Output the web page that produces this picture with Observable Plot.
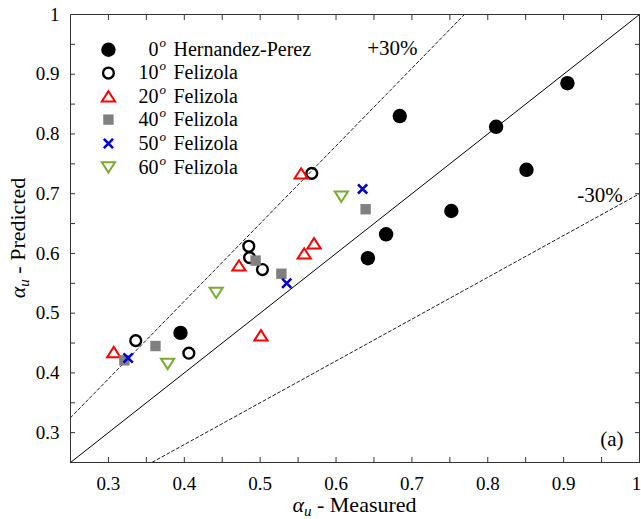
<!DOCTYPE html>
<html>
<head>
<meta charset="utf-8">
<script src="https://cdn.jsdelivr.net/npm/d3@7"></script>
<script src="https://cdn.jsdelivr.net/npm/@observablehq/plot@0.6"></script>
<style>
  html, body { margin: 0; padding: 0; background: #fff; }
  #chart svg { display: block; }
</style>
</head>
<body>
<div id="chart"></div>
<script>
// ---------- data ----------
const hpX  = [0.395, 0.642, 0.666, 0.684, 0.752, 0.811, 0.851, 0.905];
const hpY  = [0.467, 0.592, 0.632, 0.830, 0.671, 0.812, 0.740, 0.885];

const f10X = [0.336, 0.406, 0.485, 0.486, 0.503, 0.568];
const f10Y = [0.454, 0.433, 0.612, 0.593, 0.573, 0.734];

const f20X = [0.307, 0.472, 0.501, 0.558, 0.571, 0.554];
const f20Y = [0.435, 0.580, 0.463, 0.600, 0.617, 0.734];

const f40X = [0.321, 0.362, 0.494, 0.528, 0.639];
const f40Y = [0.421, 0.445, 0.588, 0.566, 0.674];

const f50X = [0.326, 0.535, 0.635];
const f50Y = [0.425, 0.550, 0.708];

const f60X = [0.378, 0.442, 0.607];
const f60Y = [0.415, 0.534, 0.695];

const angleLabels  = ["0", "10", "20", "40", "50", "60"];
const sourceLabels = ["Hernandez-Perez", "Felizola", "Felizola", "Felizola", "Felizola", "Felizola"];
const legendY      = [0.941, 0.902, 0.863, 0.824, 0.784, 0.744];
const legendX      = 0.30;

const majorTicks = [0.3, 0.4, 0.5, 0.6, 0.7, 0.8, 0.9, 1];
const minorTicks = [0.3, 0.35, 0.4, 0.45, 0.5, 0.55, 0.6, 0.65, 0.7, 0.75, 0.8, 0.85, 0.9, 0.95];
const domain = [0.25, 1];
const bandX = [0.25, 1];          // endpoints for the reference lines
const bandFactors = [1, 1.3, 0.7]; // y = x, +30 %, -30 %

// ---------- symbols ----------
const sym = fn => ({ draw(ctx, size) { fn(ctx, Math.sqrt(size / Math.PI)); } });
const circleSym = sym((c, r) => { c.moveTo(r, 0); c.arc(0, 0, r, 0, 2 * Math.PI); c.closePath(); });
const squareSym = sym((c, r) => { c.rect(-r, -r, 2 * r, 2 * r); });
const triUpSym  = sym((c, r) => { const h = r * 0.78; c.moveTo(0, -h); c.lineTo(r, h); c.lineTo(-r, h); c.closePath(); });
const triDnSym  = sym((c, r) => { const h = r * 0.78; c.moveTo(0, h); c.lineTo(r, -h); c.lineTo(-r, -h); c.closePath(); });
const timesSym  = sym((c, r) => { c.moveTo(-r, -r); c.lineTo(r, r); c.moveTo(r, -r); c.lineTo(-r, r); });

const seriesX = [hpX, f10X, f20X, f40X, f50X, f60X];
const seriesY = [hpY, f10Y, f20Y, f40Y, f50Y, f60Y];
const styles = [
  { symbol: circleSym, r: 7.2,  fill: "#000",    stroke: "none",    strokeWidth: 0 },
  { symbol: circleSym, r: 5.4,  fill: "none",    stroke: "#000",    strokeWidth: 2.4 },
  { symbol: triUpSym,  r: 6.6,  fill: "none",    stroke: "#ff0000", strokeWidth: 2 },
  { symbol: squareSym, r: 5.2,  fill: "#808080", stroke: "none",    strokeWidth: 0 },
  { symbol: timesSym,  r: 4.6,  fill: "none",    stroke: "#0000d0", strokeWidth: 2.6 },
  { symbol: triDnSym,  r: 6.6,  fill: "none",    stroke: "#77ac30", strokeWidth: 2 }
];

const FONT = "Liberation Serif";
const fmt = d => String(+d.toFixed(2));

const marks = [];
// reference lines
bandFactors.forEach((k, i) => {
  marks.push(Plot.line(bandX, {
    x: d => d, y: d => d * k, clip: true,
    stroke: "#000",
    strokeWidth: i === 0 ? 1 : 0.9,
    strokeDasharray: i === 0 ? null : "3,2.5"
  }));
});
// data points
seriesX.forEach((xs, s) => {
  const pts = xs.map((x, i) => ({ x, y: seriesY[s][i] }));
  marks.push(Plot.dot(pts, { x: "x", y: "y", ...styles[s] }));
});
// legend
angleLabels.forEach((a, s) => {
  const row = [{ x: legendX, y: legendY[s], a, name: sourceLabels[s] }];
  marks.push(Plot.dot(row, { x: "x", y: "y", ...styles[s] }));
  marks.push(Plot.text(row, { x: "x", y: "y", text: "a", dx: 50, textAnchor: "end", fontSize: 20, fontFamily: FONT, fill: "#000" }));
  marks.push(Plot.text(row, { x: "x", y: "y", text: () => "o", dx: 51, dy: -7, textAnchor: "start", fontSize: 13, fontStyle: "italic", fontFamily: FONT, fill: "#000" }));
  marks.push(Plot.text(row, { x: "x", y: "y", text: "name", dx: 65, textAnchor: "start", fontSize: 20, fontFamily: FONT, fill: "#000" }));
});
// annotations
const notes = [
  { x: 0.641, y: 0.943, t: "+30%", anchor: "start" },
  { x: 0.918, y: 0.698, t: "-30%", anchor: "start" },
  { x: 0.979, y: 0.289, t: "(a)",  anchor: "end" }
];
notes.forEach(n => marks.push(Plot.text([n], { x: "x", y: "y", text: "t", textAnchor: n.anchor, fontSize: 21, fontFamily: FONT, fill: "#000" })));

// axes: inward ticks on all four sides + labels
const lastTick = majorTicks[majorTicks.length - 1];
marks.push(
  Plot.axisX(minorTicks, { anchor: "bottom", tickSize: -5, tickFormat: () => "", label: null, stroke: "#333" }),
  Plot.axisX(minorTicks, { anchor: "top",    tickSize: -5, tickFormat: () => "", label: null, stroke: "#333" }),
  Plot.axisY(minorTicks, { anchor: "left",   tickSize: -5, tickFormat: () => "", label: null, stroke: "#333" }),
  Plot.axisY(minorTicks, { anchor: "right",  tickSize: -5, tickFormat: () => "", label: null, stroke: "#333" }),
  Plot.axisX(majorTicks.filter(t => t !== lastTick), { anchor: "bottom", tickSize: 0, tickPadding: 14, tickFormat: fmt, label: null, fontSize: 19, fontFamily: FONT, fill: "#000" }),
  Plot.axisX([lastTick], { anchor: "bottom", tickSize: 0, tickPadding: 14, tickFormat: fmt, label: null, fontSize: 19, fontFamily: FONT, fill: "#000", dx: -3 }),
  Plot.axisY(majorTicks, { anchor: "left",   tickSize: 0, tickPadding: 11, tickFormat: fmt, label: null, fontSize: 19, fontFamily: FONT, fill: "#000" }),
  Plot.frame({ stroke: "#333", strokeWidth: 1 })
);

const svg = Plot.plot({
  width: 641,
  height: 519,
  marginLeft: 70,
  marginRight: 2,
  marginTop: 14,
  marginBottom: 57,
  x: { domain, label: null },
  y: { domain, label: null },
  style: { fontFamily: FONT, fontSize: "19px", background: "#fff", color: "#000" },
  marks
});

// axis titles with italic alpha and subscript u
const xs = svg.scale("x").range, ys = svg.scale("y").range;
const root = d3.select(svg);
const addTitle = (g, word) => {
  g.append("tspan").attr("font-style", "italic").text("α");
  g.append("tspan").attr("font-style", "italic").attr("font-size", 15).attr("dy", 4).text("u");
  g.append("tspan").attr("dy", -4).text(" - " + word);
};
const xt = root.append("text")
  .attr("x", (xs[0] + xs[1]) / 2).attr("y", 512)
  .attr("text-anchor", "middle").attr("font-size", 22).attr("fill", "#000")
  .attr("font-family", FONT);
addTitle(xt, "Measured");
const yt = root.append("text")
  .attr("transform", `translate(25,${(ys[0] + ys[1]) / 2}) rotate(-90)`)
  .attr("text-anchor", "middle").attr("font-size", 22).attr("fill", "#000")
  .attr("font-family", FONT);
addTitle(yt, "Predicted");

document.getElementById("chart").appendChild(svg);
</script>
</body>
</html>
